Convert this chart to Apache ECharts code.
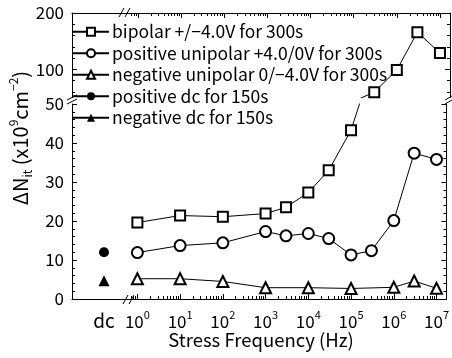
<!DOCTYPE html>
<html><head><meta charset="utf-8">
<script src="https://cdn.jsdelivr.net/npm/echarts@6/dist/echarts.min.js"></script>
<style>html,body{margin:0;padding:0;background:#fff}#c{width:452px;height:358px}</style>
</head><body><div id="c"></div>
<script>
const FONT = '"Noto Sans CJK JP", "Noto Sans", sans-serif';

// ---- data ----
const FREQ = [1, 10, 100, 1000, 3000, 1e4, 3e4, 1e5, 3e5, 1e6, 3e6, 1e7];
const BIPOLAR = [19.6, 21.4, 21.1, 21.9, 23.5, 27.3, 33.0, 43.3, 59.5, 99, 166, 129];
const POS_UNI = [11.9, 13.7, 14.4, 17.3, 16.2, 16.8, 15.5, 11.3, 12.4, 20.1, 37.4, 35.8];
const NEG_FREQ = [1, 10, 100, 1000, 1e4, 1e5, 1e6, 3e6, 1e7];
const NEG_UNI = [5.2, 5.2, 4.5, 2.9, 2.9, 2.7, 3.0, 4.6, 2.75];
const DC_CATEGORY = ['dc'];
const DC_POS = [12.0];
const DC_NEG = [4.7];

const SERIES_NAMES = [
  'bipolar +/\u22124.0V for 300s',
  'positive unipolar +4.0/0V for 300s',
  'negative unipolar 0/\u22124.0V for 300s',
  'positive dc for 150s',
  'negative dc for 150s'
];

// ---- ticks ----
const X_DECADES = [1, 10, 100, 1000, 1e4, 1e5, 1e6, 1e7];
const X_MINOR = [0.7, 0.8, 0.9];
for (let d = 1; d <= 1e6; d *= 10) for (let k = 2; k <= 9; k++) X_MINOR.push(k * d);
const Y_UPPER_MAJOR = [100, 200];
const Y_UPPER_MINOR = [60, 80, 120, 140, 160, 180];

const XMIN = 0.0295, XMAX = 1.71e7;

const zip = (xs, ys) => xs.map((x, i) => [x, ys[i]]);

const chart = echarts.init(document.getElementById('c'), null, {renderer: 'canvas'});

const supLabel = v => '{b|10}{s|' + Math.round(Math.log10(v)) + '}';
const xRich = {
  b: {fontSize: 17, lineHeight: 21, fontFamily: FONT, color: '#000', verticalAlign: 'bottom'},
  s: {fontSize: 11, lineHeight: 11, fontFamily: FONT, color: '#000', verticalAlign: 'top'}
};
const line = {lineStyle: {color: '#000', width: 1}};

function logX(gridIndex, position, ticks, len, showLine, labels) {
  return {
    type: 'log', gridIndex, position, min: XMIN, max: XMAX, logBase: 10,
    axisLine: {show: showLine, lineStyle: {color: '#000', width: 1}},
    axisTick: {show: true, inside: true, length: len, customValues: ticks, lineStyle: {color: '#000', width: 1}},
    axisLabel: labels ? {show: true, customValues: X_DECADES, margin: 10, formatter: supLabel, rich: xRich} : {show: false},
    splitLine: {show: false}, minorTick: {show: false}
  };
}

const yLabelStyle = {fontSize: 17, fontFamily: FONT, color: '#000', margin: 8};

const option = {
  animation: false,
  backgroundColor: '#fff',
  grid: [
    {left: 72, right: 2, top: 13, height: 84.5},
    {left: 72, right: 2, top: 104, height: 195},
    {left: 84, width: 40, top: 104, height: 195}
  ],
  xAxis: [
    logX(0, 'top', X_DECADES, 5, true, false),
    logX(0, 'top', X_MINOR, 3, false, false),
    logX(1, 'bottom', X_DECADES, 5, true, true),
    logX(1, 'bottom', X_MINOR, 3, false, false),
    {type: 'category', gridIndex: 2, data: DC_CATEGORY, position: 'bottom',
     axisLine: {show: false}, axisTick: {show: false},
     axisLabel: {margin: 12, fontSize: 19, fontFamily: FONT, color: '#000'}}
  ],
  yAxis: [
    {type: 'value', gridIndex: 0, position: 'left', min: 50, max: 200,
     axisLine: {show: true, ...line},
     axisTick: {show: true, inside: true, length: 5, customValues: Y_UPPER_MAJOR, ...line},
     axisLabel: {...yLabelStyle, customValues: Y_UPPER_MAJOR}, splitLine: {show: false}},
    {type: 'value', gridIndex: 0, position: 'left', min: 50, max: 200,
     axisLine: {show: false},
     axisTick: {show: true, inside: true, length: 3, customValues: Y_UPPER_MINOR, ...line},
     axisLabel: {show: false}, splitLine: {show: false}},
    {type: 'value', gridIndex: 0, position: 'right', min: 50, max: 200,
     axisLine: {show: true, ...line},
     axisTick: {show: true, inside: true, length: 5, customValues: Y_UPPER_MAJOR, ...line},
     axisLabel: {show: false}, splitLine: {show: false}},
    {type: 'value', gridIndex: 0, position: 'right', min: 50, max: 200,
     axisLine: {show: false},
     axisTick: {show: true, inside: true, length: 3, customValues: Y_UPPER_MINOR, ...line},
     axisLabel: {show: false}, splitLine: {show: false}},
    {type: 'value', gridIndex: 1, position: 'left', min: 0, max: 50, interval: 10,
     axisLine: {show: true, ...line},
     axisTick: {show: true, inside: true, length: 5, ...line},
     minorTick: {show: true, splitNumber: 5, length: 3, ...line},
     axisLabel: yLabelStyle, splitLine: {show: false}, minorSplitLine: {show: false}},
    {type: 'value', gridIndex: 1, position: 'right', min: 0, max: 50, interval: 10,
     axisLine: {show: true, ...line},
     axisTick: {show: true, inside: true, length: 5, ...line},
     minorTick: {show: true, splitNumber: 5, length: 3, ...line},
     axisLabel: {show: false}, splitLine: {show: false}, minorSplitLine: {show: false}},
    {type: 'value', gridIndex: 2, min: 0, max: 50, show: false}
  ],
  legend: {
    orient: 'vertical', left: 72, top: 23, padding: 0, itemWidth: 36, itemHeight: 10, itemGap: 4,
    textStyle: {fontSize: 17.5, lineHeight: 17, fontFamily: FONT, color: '#000', padding: [0, 0, 0, -2]},
    data: SERIES_NAMES
  },
  series: [
    {name: SERIES_NAMES[0], type: 'line', xAxisIndex: 0, yAxisIndex: 0, data: zip(FREQ, BIPOLAR),
     symbol: 'emptyRect', symbolSize: 10, clip: true, color: '#000', lineStyle: {color: '#000', width: 1}, itemStyle: {color: '#000', borderWidth: 1}},
    {name: SERIES_NAMES[0], type: 'line', xAxisIndex: 2, yAxisIndex: 4, data: zip(FREQ, BIPOLAR),
     symbol: 'emptyRect', symbolSize: 10, clip: true, color: '#000', lineStyle: {color: '#000', width: 1}, itemStyle: {color: '#000', borderWidth: 1}},
    {name: SERIES_NAMES[1], type: 'line', xAxisIndex: 2, yAxisIndex: 4, data: zip(FREQ, POS_UNI),
     symbol: 'emptyCircle', symbolSize: 11, clip: true, color: '#000', lineStyle: {color: '#000', width: 1}, itemStyle: {color: '#000', borderWidth: 1}},
    {name: SERIES_NAMES[2], type: 'line', xAxisIndex: 2, yAxisIndex: 4, data: zip(NEG_FREQ, NEG_UNI),
     symbol: 'emptyTriangle', symbolSize: 11, clip: true, color: '#000', lineStyle: {color: '#000', width: 1}, itemStyle: {color: '#000', borderWidth: 1}},
    {name: SERIES_NAMES[3], type: 'line', xAxisIndex: 4, yAxisIndex: 6, data: DC_POS,
     symbol: 'circle', symbolSize: 10, color: '#000', lineStyle: {color: '#000', width: 1}, itemStyle: {color: '#000'}},
    {name: SERIES_NAMES[4], type: 'line', xAxisIndex: 4, yAxisIndex: 6, data: DC_NEG,
     symbol: 'triangle', symbolSize: 11, color: '#000', lineStyle: {color: '#000', width: 1}, itemStyle: {color: '#000'}}
  ],
  graphic: [
    // x-axis title
    {type: 'text', x: 261, y: 340, style: {text: 'Stress Frequency (Hz)', fontSize: 18.5, fontFamily: FONT, fill: '#000', align: 'center', verticalAlign: 'middle'}},
    // y-axis title
    {type: 'text', x: 20, y: 138, rotation: Math.PI / 2,
     style: {text: '{b|\u0394N}{sub|it}{b| (x10}{sup|9}{b|cm}{sup|\u22122}{b|)}', align: 'center', verticalAlign: 'middle',
       rich: {
         b: {fontSize: 20, lineHeight: 26, fontFamily: FONT, fill: '#000', verticalAlign: 'middle'},
         sub: {fontSize: 12, lineHeight: 12, fontFamily: FONT, fill: '#000', verticalAlign: 'bottom'},
         sup: {fontSize: 12, lineHeight: 12, fontFamily: FONT, fill: '#000', verticalAlign: 'top'}
       }}},
    // axis break marks (decoration)
    {type: 'rect', shape: {x: 123, y: 10, width: 5, height: 6}, style: {fill: '#fff'}},
    {type: 'line', shape: {x1: 119, y1: 17, x2: 124, y2: 8}, style: {stroke: '#000', lineWidth: 1}},
    {type: 'line', shape: {x1: 125, y1: 17, x2: 130, y2: 8}, style: {stroke: '#000', lineWidth: 1}},
    {type: 'rect', shape: {x: 127, y: 296, width: 5, height: 6}, style: {fill: '#fff'}},
    {type: 'line', shape: {x1: 123, y1: 304, x2: 128, y2: 295}, style: {stroke: '#000', lineWidth: 1}},
    {type: 'line', shape: {x1: 129, y1: 304, x2: 134, y2: 295}, style: {stroke: '#000', lineWidth: 1}},
    {type: 'line', shape: {x1: 67, y1: 100, x2: 77, y2: 95}, style: {stroke: '#000', lineWidth: 1}},
    {type: 'line', shape: {x1: 67, y1: 104, x2: 77, y2: 99}, style: {stroke: '#000', lineWidth: 1}},
    {type: 'line', shape: {x1: 445, y1: 100, x2: 452, y2: 96}, style: {stroke: '#000', lineWidth: 1}},
    {type: 'line', shape: {x1: 445, y1: 104, x2: 452, y2: 100}, style: {stroke: '#000', lineWidth: 1}}
  ]
};
chart.setOption(option);
</script>
</body></html>
